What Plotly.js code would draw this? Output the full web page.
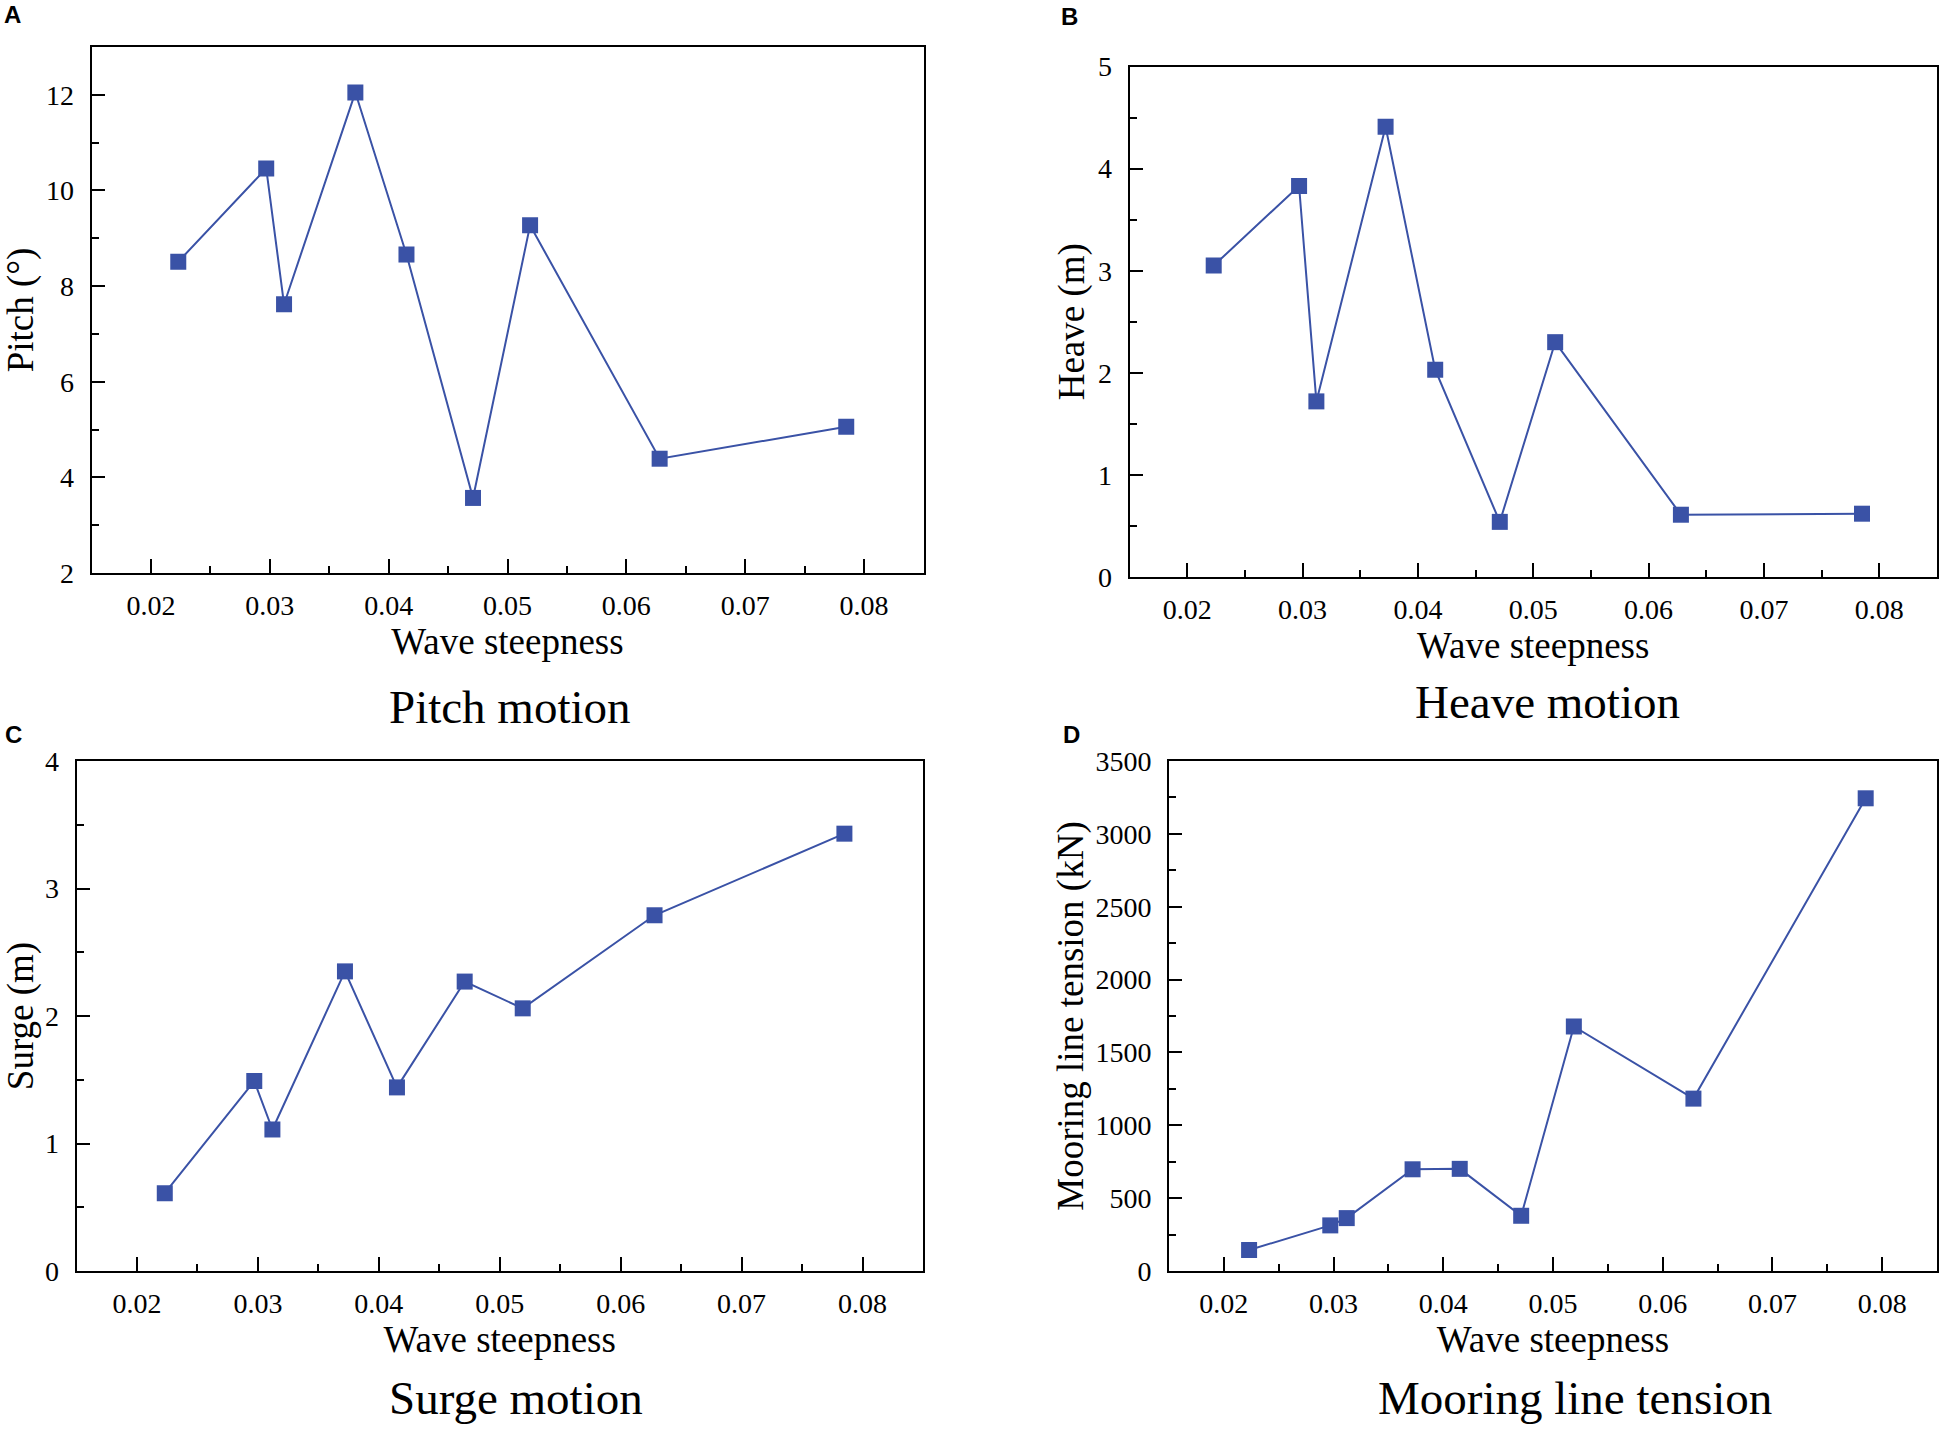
<!DOCTYPE html>
<html>
<head>
<meta charset="utf-8">
<script src="https://cdn.plot.ly/plotly-3.0.1.min.js"></script>
<style>
  html, body { margin: 0; padding: 0; background: #fff; }
  #chart { width: 1940px; height: 1431px; }
</style>
</head>
<body>
<div id="chart"></div>
<script>
// wave steepness (shared by all four panels)
var steepness = [0.0223, 0.0297, 0.0312, 0.0372, 0.0415, 0.0471, 0.0519, 0.0628, 0.0785];

var pitch   = [8.51, 10.46, 7.62, 12.05, 8.66, 3.57, 9.27, 4.39, 5.06];
var heave   = [3.05, 3.83, 1.72, 4.41, 2.03, 0.54, 2.30, 0.61, 0.62];
var surge   = [0.61, 1.49, 1.11, 2.35, 1.44, 2.27, 2.06, 2.79, 3.43];
var tension = [144, 313, 363, 698, 701, 379, 1678, 1183, 3244];

var panelLetters = ['A', 'B', 'C', 'D'];
var panelTitles = ['Pitch motion', 'Heave motion', 'Surge motion', 'Mooring line tension'];
var yTitles = ['Pitch (°)', 'Heave (m)', 'Surge (m)', 'Mooring line tension (kN)'];
var xTitle = 'Wave steepness';

var W = 1940, H = 1431;
var blue = '#3a52a6';
var serif = 'Liberation Serif';

function px(x) { return x / W; }
function py(y) { return 1 - y / H; }

function trace(y, xa, ya) {
    return {
        x: steepness, y: y, xaxis: xa, yaxis: ya,
        type: 'scatter', mode: 'lines+markers',
        line: {color: blue, width: 2},
        marker: {symbol: 'square', size: 16, color: blue},
        showlegend: false, hoverinfo: 'x+y'
    };
}

var data = [
    trace(pitch, 'x', 'y'),
    trace(heave, 'x2', 'y2'),
    trace(surge, 'x3', 'y3'),
    trace(tension, 'x4', 'y4')
];

function xaxis(left, right, anchor) {
    return {
        domain: [px(left), px(right)], anchor: anchor,
        range: [0.015, 0.085], tick0: 0, dtick: 0.01, tickformat: '.2f',
        ticks: 'inside', ticklen: 14, tickwidth: 2, tickcolor: '#000',
        minor: {ticks: 'inside', dtick: 0.005, ticklen: 7, tickwidth: 2, tickcolor: '#000'},
        showline: true, linewidth: 2, linecolor: '#000', mirror: true,
        showgrid: false, zeroline: false,
        ticklabelstandoff: 6,
        tickfont: {family: serif, size: 28, color: '#000'},
        title: {text: xTitle, standoff: 9, font: {family: serif, size: 37, color: '#000'}}
    };
}

function yaxis(top, bottom, anchor, range, dtick, minorDtick, title, standoff) {
    return {
        domain: [py(bottom), py(top)], anchor: anchor,
        range: range, tick0: 0, dtick: dtick,
        ticks: 'inside', ticklen: 13, tickwidth: 2, tickcolor: '#000',
        minor: {ticks: 'inside', dtick: minorDtick, ticklen: 7, tickwidth: 2, tickcolor: '#000'},
        showline: true, linewidth: 2, linecolor: '#000', mirror: true,
        showgrid: false, zeroline: false,
        ticklabelstandoff: 10,
        tickfont: {family: serif, size: 28, color: '#000'},
        title: {text: title, standoff: standoff, font: {family: serif, size: 37, color: '#000'}}
    };
}

var annotations = [];
var letterPos = [[12, 14], [1069, 16], [13, 734], [1071, 734]];
var titlePos = [[510, 707], [1547, 702], [516, 1398], [1575, 1398]];
for (var i = 0; i < 4; i++) {
    annotations.push({
        xref: 'paper', yref: 'paper', x: px(letterPos[i][0]), y: py(letterPos[i][1]),
        xanchor: 'center', yanchor: 'middle', showarrow: false,
        text: '<b>' + panelLetters[i] + '</b>',
        font: {family: 'Liberation Sans', size: 24, color: '#000'}
    });
    annotations.push({
        xref: 'paper', yref: 'paper', x: px(titlePos[i][0]), y: py(titlePos[i][1]),
        xanchor: 'center', yanchor: 'middle', showarrow: false,
        text: panelTitles[i],
        font: {family: serif, size: 47, color: '#000'}
    });
}

var layout = {
    width: W, height: H,
    margin: {l: 0, r: 0, t: 0, b: 0},
    font: {family: serif, color: '#000'},
    paper_bgcolor: '#fff', plot_bgcolor: '#fff',
    xaxis: xaxis(91.5, 923.5, 'y'),
    yaxis: yaxis(47, 573, 'x', [2, 13], 2, 1, yTitles[0], 15),
    xaxis2: xaxis(1129.5, 1937, 'y2'),
    yaxis2: yaxis(66.5, 577, 'x2', [0, 5], 1, 0.5, yTitles[1], 2),
    xaxis3: xaxis(76.5, 923, 'y3'),
    yaxis3: yaxis(761, 1271, 'x3', [0, 4], 1, 0.5, yTitles[2], 23),
    xaxis4: xaxis(1169, 1937, 'y4'),
    yaxis4: yaxis(761, 1271, 'x4', [0, 3500], 500, 250, yTitles[3], 0),
    annotations: annotations
};

Plotly.newPlot('chart', data, layout, {staticPlot: true});
</script>
</body>
</html>
